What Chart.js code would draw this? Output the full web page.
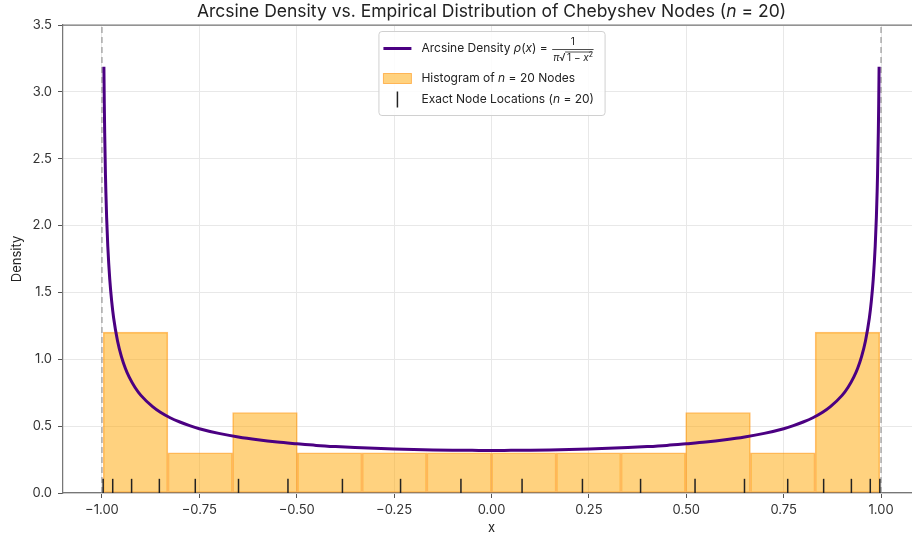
<!DOCTYPE html>
<html>
<head>
<meta charset="utf-8">
<script src="https://cdn.jsdelivr.net/npm/chart.js@4/dist/chart.umd.min.js"></script>
<style>
  html, body { margin: 0; padding: 0; overflow: hidden; background: #fff; }
</style>
</head>
<body>
<canvas id="theCanvas" width="929" height="538"></canvas>
<script>
var FONT = 'Inter, "Noto Sans", sans-serif';

// Chebyshev node locations (n = 20)
var nodes = [-0.99692, -0.97237, -0.92388, -0.85264, -0.76041, -0.64945, -0.52250, -0.38268, -0.23345, -0.07846,
             0.07846, 0.23345, 0.38268, 0.52250, 0.64945, 0.76041, 0.85264, 0.92388, 0.97237, 0.99692];

// histogram: 12 bins between the outermost nodes
var binEdges = [-0.99692, -0.83077, -0.66462, -0.49846, -0.33231, -0.16615, 0,
                0.16615, 0.33231, 0.49846, 0.66462, 0.83077, 0.99692];
var binDensity = [1.2037, 0.3009, 0.6019, 0.3009, 0.3009, 0.3009, 0.3009, 0.3009, 0.3009, 0.6019, 0.3009, 1.2037];

// arcsine density curve samples
var curveX = [-0.995, -0.994, -0.993, -0.991, -0.99, -0.988, -0.985, -0.98, -0.975, -0.97, -0.96, -0.95, -0.94, -0.93,
              -0.915, -0.9, -0.87, -0.85, -0.825, -0.8, -0.775, -0.75, -0.7, -0.65, -0.6, -0.55, -0.5, -0.45, -0.4,
              -0.35, -0.3, -0.25, -0.2, -0.15, -0.1, -0.05, 0,
              0.05, 0.1, 0.15, 0.2, 0.25, 0.3, 0.35, 0.4, 0.45, 0.5, 0.55, 0.6, 0.65, 0.7, 0.75, 0.775, 0.8, 0.825,
              0.85, 0.87, 0.9, 0.915, 0.93, 0.94, 0.95, 0.96, 0.97, 0.975, 0.98, 0.985, 0.988, 0.99, 0.991, 0.993, 0.994, 0.995];
var curveY = [3.187, 2.910, 2.695, 2.378, 2.257, 2.061, 1.845, 1.600, 1.433, 1.309, 1.137, 1.020, 0.933, 0.866,
              0.789, 0.730, 0.646, 0.604, 0.563, 0.531, 0.504, 0.481, 0.446, 0.419, 0.398, 0.381, 0.368, 0.356, 0.347,
              0.340, 0.334, 0.329, 0.325, 0.322, 0.320, 0.319, 0.318,
              0.319, 0.320, 0.322, 0.325, 0.329, 0.334, 0.340, 0.347, 0.356, 0.368, 0.381, 0.398, 0.419, 0.446, 0.481, 0.504, 0.531, 0.563,
              0.604, 0.646, 0.730, 0.789, 0.866, 0.933, 1.020, 1.137, 1.309, 1.433, 1.600, 1.845, 2.061, 2.257, 2.378, 2.695, 2.910, 3.187];

var boundaryX = [-1, 1];
var xTicks = [-1, -0.75, -0.5, -0.25, 0, 0.25, 0.5, 0.75, 1];
var yTicks = [0, 0.5, 1, 1.5, 2, 2.5, 3, 3.5];
var markerY = 0.05;

var curvePts = [];
for (var i = 0; i < curveX.length; i++) curvePts.push({x: curveX[i], y: curveY[i]});
var nodePts = [];
for (var i = 0; i < nodes.length; i++) nodePts.push({x: nodes[i], y: markerY});
var barPts = [];
for (var i = 0; i < binDensity.length; i++) barPts.push({x: (binEdges[i] + binEdges[i + 1]) / 2, y: binDensity[i]});

function minus(s) { return s.replace('-', '\u2212'); }

// draw a run of text pieces, each {t, it, size, dy}
function drawPieces(ctx, pieces, x, y, baseSize) {
    ctx.textBaseline = 'middle';
    ctx.textAlign = 'left';
    for (var i = 0; i < pieces.length; i++) {
        var p = pieces[i];
        ctx.font = (p.it ? 'italic ' : '') + (p.size || baseSize) + 'px ' + FONT;
        ctx.fillText(p.t, x, y + (p.dy || 0));
        x += ctx.measureText(p.t).width;
    }
    return x;
}
function piecesWidth(ctx, pieces, baseSize) {
    var w = 0;
    for (var i = 0; i < pieces.length; i++) {
        var p = pieces[i];
        ctx.font = (p.it ? 'italic ' : '') + (p.size || baseSize) + 'px ' + FONT;
        w += ctx.measureText(p.t).width;
    }
    return w;
}

var decorPlugin = {
    id: 'decor',
    afterDraw: function (chart) {
        var ctx = chart.ctx;
        var a = chart.chartArea;
        ctx.save();
        // top spine
        ctx.strokeStyle = '#777';
        ctx.lineWidth = 1.25;
        ctx.beginPath();
        ctx.moveTo(a.left - 0.6, a.top);
        ctx.lineTo(a.right, a.top);
        ctx.stroke();

        // title
        ctx.fillStyle = '#222';
        var title = [{t: 'Arcsine Density vs. Empirical Distribution of Chebyshev Nodes ('}, {t: 'n', it: true}, {t: ' = 20)'}];
        var tw = piecesWidth(ctx, title, 17.5);
        drawPieces(ctx, title, (a.left + a.right) / 2 - tw / 2, 12, 17.5);

        // legend
        var fs = 12;
        var row1 = [{t: 'Arcsine Density '}, {t: '\u03C1', it: true}, {t: '('}, {t: 'x', it: true}, {t: ') = '}];
        var den = [{t: '\u03C0', it: true, size: 10}, {t: '\u221A', size: 10}, {t: '1 \u2212 ', size: 10}, {t: 'x', it: true, size: 10}, {t: '2', size: 7, dy: -3}];
        var row2 = [{t: 'Histogram of '}, {t: 'n', it: true}, {t: ' = 20 Nodes'}];
        var row3 = [{t: 'Exact Node Locations ('}, {t: 'n', it: true}, {t: ' = 20)'}];
        var denW = piecesWidth(ctx, den, fs) + 1;
        var w1 = piecesWidth(ctx, row1, fs) + denW + 4;
        var w = Math.max(w1, piecesWidth(ctx, row2, fs), piecesWidth(ctx, row3, fs)) + 43 + 10;
        var h = 84;
        var bx = (a.left + a.right) / 2 - w / 2;
        var by = a.top + 6;
        ctx.fillStyle = 'rgba(255,255,255,0.85)';
        ctx.strokeStyle = '#d0d0d0';
        ctx.lineWidth = 1;
        ctx.beginPath();
        ctx.roundRect(bx + 0.5, by + 0.5, w, h, 3);
        ctx.fill();
        ctx.stroke();

        var tx = bx + 43;
        var y1 = by + 17.5, y2 = by + 47.5, y3 = by + 68.5;
        // row 1 handle
        ctx.strokeStyle = '#4B0082';
        ctx.lineWidth = 3;
        ctx.beginPath();
        ctx.moveTo(bx + 5, y1);
        ctx.lineTo(bx + 33, y1);
        ctx.stroke();
        ctx.fillStyle = '#222';
        var fx = drawPieces(ctx, row1, tx, y1, fs) + 1;
        // fraction
        ctx.font = '10px ' + FONT;
        ctx.textAlign = 'center';
        ctx.fillText('1', fx + (denW + 2) / 2, y1 - 7);
        ctx.strokeStyle = '#222';
        ctx.lineWidth = 0.8;
        ctx.beginPath();
        ctx.moveTo(fx, y1 + 1);
        ctx.lineTo(fx + denW + 2, y1 + 1);
        ctx.stroke();
        var dx = drawPieces(ctx, den.slice(0, 2), fx + 1, y1 + 9, fs);
        ctx.beginPath();
        ctx.moveTo(dx - 0.5, y1 + 3.5);
        ctx.lineTo(fx + denW + 1, y1 + 3.5);
        ctx.stroke();
        drawPieces(ctx, den.slice(2), dx + 1.5, y1 + 9, fs);

        // row 2 handle
        ctx.fillStyle = 'rgba(255,165,0,0.5)';
        ctx.strokeStyle = 'rgba(255,140,0,0.55)';
        ctx.lineWidth = 1;
        ctx.fillRect(bx + 5, y2 - 5, 28, 10);
        ctx.strokeRect(bx + 5, y2 - 5, 28, 10);
        ctx.fillStyle = '#222';
        drawPieces(ctx, row2, tx, y2, fs);

        // row 3 handle
        ctx.strokeStyle = '#222';
        ctx.lineWidth = 1.5;
        ctx.beginPath();
        ctx.moveTo(bx + 19, y3 - 8);
        ctx.lineTo(bx + 19, y3 + 8);
        ctx.stroke();
        drawPieces(ctx, row3, tx, y3, fs);
        ctx.restore();
    }
};

var ctx = document.getElementById('theCanvas');
var myChart = new Chart(ctx, {
    type: 'bar',
    data: {
        datasets: [
            {
                type: 'line',
                data: curvePts,
                borderColor: '#4B0082',
                borderWidth: 3,
                pointRadius: 0,
                cubicInterpolationMode: 'monotone',
                order: 0
            },
            {
                type: 'scatter',
                data: nodePts,
                pointStyle: 'line',
                rotation: 90,
                pointRadius: 7.5,
                borderColor: '#222',
                borderWidth: 1.5,
                order: 1
            },
            {
                type: 'bar',
                data: barPts,
                backgroundColor: 'rgba(255,165,0,0.5)',
                borderColor: 'rgba(255,140,0,0.55)',
                borderWidth: 1,
                borderSkipped: false,
                barPercentage: 1,
                categoryPercentage: 1,
                order: 2
            },
            {
                type: 'line',
                data: [{x: boundaryX[0], y: 0}, {x: boundaryX[0], y: 3.5}],
                borderColor: 'rgba(140,140,140,0.7)',
                borderDash: [6, 4],
                borderWidth: 1.5,
                pointRadius: 0,
                order: 3
            },
            {
                type: 'line',
                data: [{x: boundaryX[1], y: 0}, {x: boundaryX[1], y: 3.5}],
                borderColor: 'rgba(140,140,140,0.7)',
                borderDash: [6, 4],
                borderWidth: 1.5,
                pointRadius: 0,
                order: 3
            }
        ]
    },
    options: {
        responsive: false,
        animation: false,
        layout: { padding: { top: 25, right: 0, left: 0, bottom: 0 } },
        plugins: { legend: { display: false }, tooltip: { enabled: false } },
        scales: {
            x: {
                type: 'linear',
                min: -1.1,
                max: 1.1,
                offset: false,
                afterBuildTicks: function (scale) { scale.ticks = xTicks.map(function (v) { return {value: v}; }); },
                afterFit: function (scale) { scale.height = 45; },
                grid: { color: '#e8e8e8', lineWidth: 1, tickColor: '#555', tickLength: 5, offset: false },
                border: { color: '#777', width: 1.25 },
                ticks: {
                    color: '#333',
                    padding: 4,
                    maxRotation: 0,
                    font: { family: FONT, size: 13 },
                    callback: function (v) { return minus(v.toFixed(2)); }
                },
                title: { display: true, text: 'x', color: '#222', font: { family: FONT, size: 13 }, padding: { top: 0, bottom: 2 } }
            },
            y: {
                type: 'linear',
                min: 0,
                max: 3.5,
                afterBuildTicks: function (scale) { scale.ticks = yTicks.map(function (v) { return {value: v}; }); },
                afterFit: function (scale) { scale.width = 63; },
                grid: { color: '#e8e8e8', lineWidth: 1, tickColor: '#555', tickLength: 5 },
                border: { color: '#777', width: 1.25 },
                ticks: {
                    color: '#333',
                    padding: 6,
                    font: { family: FONT, size: 13 },
                    callback: function (v) { return v.toFixed(1); }
                },
                title: { display: true, text: 'Density', color: '#222', font: { family: FONT, size: 13 }, padding: { top: 9, bottom: 0 } }
            }
        }
    },
    plugins: [decorPlugin]
});
</script>
</body>
</html>
